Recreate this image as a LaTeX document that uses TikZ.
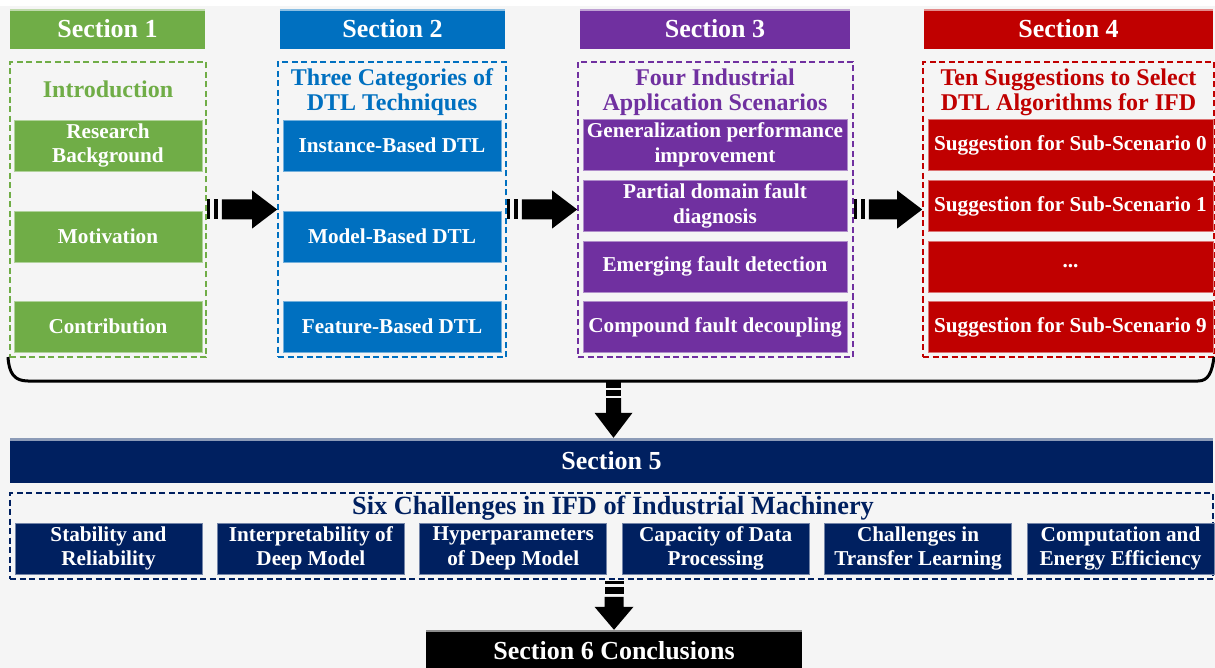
\documentclass[tikz,border=0pt]{standalone}
\usepackage{fontspec}
\setmainfont{Liberation Serif}
\usetikzlibrary{calc}

\definecolor{secgreen}{HTML}{70AD47}
\definecolor{secblue}{HTML}{0070C0}
\definecolor{secpurple}{HTML}{7030A0}
\definecolor{secred}{HTML}{C00000}
\definecolor{secnavy}{HTML}{002060}
\definecolor{bggray}{HTML}{F5F5F5}

% horizontal block arrow with a striped tail, from the east side of #1 to the west side of #2
\newcommand\hblockarrow[2]{%
  \fill ($(#1.east)+(0,-10)$) rectangle ($(#1.east)+(3.5,10)$);
  \fill ($(#1.east)+(7,-10)$) rectangle ($(#1.east)+(11.5,10)$);
  \fill ($(#1.east)+(15,-10)$) -- ($(#2.west)+(-25,-10)$) -- ($(#2.west)+(-25,-19)$)
        -- (#2.west) -- ($(#2.west)+(-25,19)$) -- ($(#2.west)+(-25,10)$)
        -- ($(#1.east)+(15,10)$) -- cycle;}

\begin{document}
\begin{tikzpicture}[x=1pt,y=-1pt,
  hdr/.style={fill=#1, text=white, minimum height=40pt, inner sep=0pt,
    font=\bfseries\fontsize{26}{28}\selectfont},
  frm/.style={draw=#1, line width=1.6pt, dash pattern=on 6pt off 3.5pt, inner sep=0pt},
  ttl/.style={text=#1, align=center, inner sep=0pt,
    font=\bfseries\fontsize{24}{25}\selectfont},
  item/.style={fill=#1, draw=#1!55!white, line width=0.7pt, text=white, align=center,
    inner sep=0pt, minimum height=51pt, font=\bfseries\fontsize{21.2}{24.5}\selectfont},
  cbox/.style={item=secnavy, minimum width=187pt},
  topband/.style={fill=#1!45!white}
]
\useasboundingbox (0,0) rectangle (1215,668);
\fill[bggray] (0,0) rectangle (1215,668);
\fill[white] (0,0) rectangle (1215,6);

% ---------- Section headers ----------
\node[hdr=secgreen,  minimum width=195pt] (h1) at (107.5,29) {Section 1};
\node[hdr=secblue,   minimum width=225pt] (h2) at (392.5,29) {Section 2};
\node[hdr=secpurple, minimum width=270pt] (h3) at (715,29)   {Section 3};
\node[hdr=secred,    minimum width=289pt] (h4) at (1068.5,29) {Section 4};
\foreach \h/\c in {h1/secgreen,h2/secblue,h3/secpurple,h4/secred}
  \fill[topband=\c] (\h.north west) rectangle ($(\h.north east)+(0,2)$);

% ---------- Section 1 ----------
\node[frm=secgreen, minimum width=196pt, minimum height=295pt] (f1) at (108,209.5) {};
\node[ttl=secgreen] (t1) at (108,89) {Introduction};
\node[item=secgreen, minimum width=188pt] (g1) at (108,145.5) {Research\\Background};
\node[item=secgreen, minimum width=188pt] (g2) at (108,236.5) {Motivation};
\node[item=secgreen, minimum width=188pt] (g3) at (108,326.5) {Contribution};

% ---------- Section 2 ----------
\node[frm=secblue, minimum width=228pt, minimum height=295pt] (f2) at (392,209.5) {};
\node[ttl=secblue] (t2) at (392,92) {Three Categories of\\DTL Techniques};
\node[item=secblue, minimum width=218pt] (b1) at (392,145.5) {Instance-Based DTL};
\node[item=secblue, minimum width=218pt] (b2) at (392,236.5) {Model-Based DTL};
\node[item=secblue, minimum width=218pt] (b3) at (392,326.5) {Feature-Based DTL};

% ---------- Section 3 ----------
\node[frm=secpurple, minimum width=275pt, minimum height=295pt] (f3) at (715.5,209.5) {};
\node[ttl=secpurple] (t3) at (715,92) {Four Industrial\\Application Scenarios};
\node[item=secpurple, minimum width=264pt] (p1) at (715,145)   {Generalization performance\\improvement};
\node[item=secpurple, minimum width=264pt] (p2) at (715,206)   {Partial domain fault\\diagnosis};
\node[item=secpurple, minimum width=264pt] (p3) at (715,266.5) {Emerging fault detection};
\node[item=secpurple, minimum width=264pt] (p4) at (715,327)   {Compound fault decoupling};

% ---------- Section 4 ----------
\node[frm=secred, minimum width=291pt, minimum height=295pt] (f4) at (1068.5,209.5) {};
\node[ttl=secred] (t4) at (1068.5,92) {Ten Suggestions to Select\\DTL Algorithms for IFD};
\node[item=secred, minimum width=285pt] (r1) at (1070.5,145)   {Suggestion for Sub-Scenario 0};
\node[item=secred, minimum width=285pt] (r2) at (1070.5,206)   {Suggestion for Sub-Scenario 1};
\node[item=secred, minimum width=285pt] (r3) at (1070.5,266.5) {...};
\node[item=secred, minimum width=285pt] (r4) at (1070.5,327)   {Suggestion for Sub-Scenario 9};

% ---------- arrows between the sections ----------
\hblockarrow{f1}{f2}
\hblockarrow{f2}{f3}
\hblockarrow{f3}{f4}

% ---------- brace gathering sections 1-4 ----------
\coordinate (bl) at (8,357);
\coordinate (br) at (1214,357);
\coordinate (bc) at (613.5,381);
\draw[line width=3pt] (bl) .. controls (9,373) and (14,381) .. (28,381)
  -- (1198,381) .. controls (1208,381) and (1212,373) .. (br);

% ---------- Section 5 ----------
\node[hdr=secnavy, minimum width=1203pt, minimum height=45pt] (s5) at (611.5,460.5) {Section 5};
\fill[topband=secnavy] (s5.north west) rectangle ($(s5.north east)+(0,3)$);

% arrow from the brace down to Section 5
\coordinate (a5) at (s5.north -| bc);
\fill ($(bc)+(-7.5,0)$) rectangle ($(bc)+(7.5,7)$);
\fill ($(bc)+(-7.5,9)$) rectangle ($(bc)+(7.5,15)$);
\fill ($(bc)+(-7.5,17)$) -- ($(a5)+(-7.5,-25)$) -- ($(a5)+(-19,-25)$) -- (a5)
   -- ($(a5)+(19,-25)$) -- ($(a5)+(7.5,-25)$) -- ($(bc)+(7.5,17)$) -- cycle;

\node[frm=secnavy, minimum width=1203pt, minimum height=86pt] (f5) at (611.5,536) {};
\node[ttl=secnavy, font=\bfseries\fontsize{26.3}{28}\selectfont] (t5) at (613,508.5)
  {Six Challenges in IFD of Industrial Machinery};
\node[cbox] (c1) at (108.5,548.5)  {Stability and\\Reliability};
\node[cbox] (c2) at (310.9,548.5)  {Interpretability of\\Deep Model};
\node[cbox] (c3) at (513.3,548.5)  {Hyperparameters\\of Deep Model};
\node[cbox] (c4) at (715.7,548.5)  {Capacity of Data\\Processing};
\node[cbox] (c5) at (918.1,548.5)  {Challenges in\\Transfer Learning};
\node[cbox] (c6) at (1120.5,548.5) {Computation and\\Energy Efficiency};

% ---------- Section 6 ----------
\node[hdr=black, minimum width=376pt, minimum height=42pt] (s6) at (614,651) {Section 6 Conclusions};
\fill[topband=black] (s6.north west) rectangle ($(s6.north east)+(0,2)$);

% arrow from the challenges down to Section 6
\coordinate (d0) at (f5.south -| s6.north);
\coordinate (d1) at (s6.north);
\fill ($(d0)+(-9.5,1)$) rectangle ($(d0)+(9.5,4)$);
\fill ($(d0)+(-9.5,7)$) rectangle ($(d0)+(9.5,14)$);
\fill ($(d0)+(-9.5,17)$) -- ($(d1)+(-9.5,-23)$) -- ($(d1)+(-19.5,-23)$) -- (d1)
   -- ($(d1)+(19.5,-23)$) -- ($(d1)+(9.5,-23)$) -- ($(d0)+(9.5,17)$) -- cycle;
\end{tikzpicture}
\end{document}
